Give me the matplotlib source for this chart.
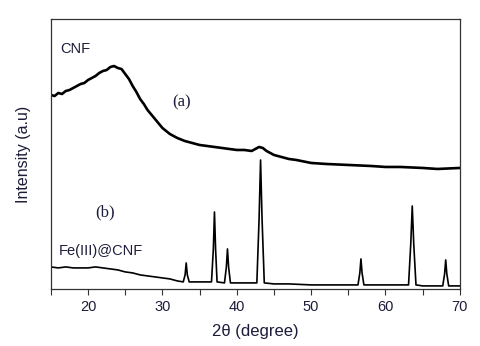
import numpy as np
import matplotlib
matplotlib.use("Agg")
import matplotlib.pyplot as plt
from matplotlib.ticker import MultipleLocator

# curve (a): CNF, amorphous hump (2theta, intensity a.u.)
cnf_x = [15, 15.5, 16, 16.5, 17, 17.5, 18, 18.5, 19, 19.5, 20, 20.5, 21, 21.5, 22, 22.5, 23, 23.5, 24, 24.5,
         25, 25.5, 26, 26.5, 27, 27.5, 28, 29, 30, 31, 32, 33, 34, 35, 36, 37, 38, 39, 40, 41,
         42, 42.5, 43, 43.5, 44, 44.5, 45, 46, 47, 48, 50, 52, 55, 58, 60, 62, 65, 67, 70]
cnf_y = [194, 193, 196, 195, 198, 199, 201, 203, 205, 206, 209, 211, 213, 216, 218, 219, 222, 223, 221, 220,
         215, 210, 203, 197, 190, 185, 179, 170, 161, 155, 151, 148, 146, 144, 143, 142, 141, 140, 139, 139,
         138, 140, 142, 141, 138, 136, 134, 132, 130, 129, 126, 125, 124, 123, 122, 122, 121, 120, 121]

# curve (b): Fe(III)@CNF, baseline plus sharp reflections
fe_x = [15, 16, 17, 18, 19, 20, 21, 22, 23, 24, 25, 26, 27, 28, 29, 30, 31, 32,
        32.8, 33.05, 33.2, 33.35, 33.6,
        34.5, 35.5, 36.6, 36.85, 37.0, 37.15, 37.35,
        38.35, 38.6, 38.75, 38.9, 39.15,
        40, 41, 42, 42.7, 43.0, 43.2, 43.4, 43.7,
        45, 47, 50, 53, 56.3, 56.55, 56.7, 56.85, 57.1,
        58, 60, 62, 63.1, 63.4, 63.6, 63.8, 64.1,
        65, 67, 67.7, 67.95, 68.1, 68.25, 68.5, 69, 70]
fe_y = [22, 21, 22, 21, 21, 21, 22, 21, 20, 19, 17, 16, 14, 13, 12, 11, 10, 8,
        7, 14, 26, 14, 7,
        7, 7, 7, 40, 77, 40, 7,
        6, 22, 40, 22, 6,
        6, 6, 6, 6, 70, 129, 70, 6,
        5, 5, 4, 4, 4, 16, 30, 16, 4,
        4, 4, 4, 4, 45, 83, 45, 4,
        3, 3, 3, 15, 29, 15, 3, 3, 3]

xtick_labels = ["20", "30", "40", "50", "60", "70"]
text_col = "#1c1c3a"

fig = plt.figure(figsize=(4.8, 3.46), dpi=100)
ax = fig.add_axes([0.106, 0.165, 0.852, 0.780])

ax.plot(cnf_x, cnf_y, color="black", lw=1.9)
ax.plot(fe_x, fe_y, color="black", lw=1.2)

ax.set_xlim(15, 70)
ax.set_ylim(0, 270)
ax.set_yticks([])
ax.xaxis.set_major_locator(MultipleLocator(5))
ax.xaxis.set_major_formatter(plt.FuncFormatter(
    lambda v, p: xtick_labels[int(v) // 10 - 2] if int(v) % 10 == 0 and int(v) >= 20 else ""))
ax.tick_params(axis="x", direction="out", length=4, width=0.8, labelsize=10.5,
               labelcolor=text_col, color="#333333", pad=4)
for s in ax.spines.values():
    s.set_color("#333333")
    s.set_linewidth(0.9)

lab_font = ["Liberation Sans", "DejaVu Sans"]
ax.set_xlabel("2θ (degree)", fontsize=12, color=text_col, family=lab_font, labelpad=7)
ax.set_ylabel("Intensity (a.u)", fontsize=11.5, color=text_col, family=lab_font, labelpad=14)
for t in ax.get_xticklabels():
    t.set_family(lab_font)

ax.text(16.2, 236, "CNF", fontsize=10.5, color=text_col, family=lab_font)
ax.text(31.3, 183, "(a)", fontsize=12, color=text_col, family="Liberation Serif")
ax.text(21.0, 73, "(b)", fontsize=12, color=text_col, family="Liberation Serif")
ax.text(16.0, 34, "Fe(III)@CNF", fontsize=10.5, color=text_col, family=lab_font)

fig.savefig("out.png", dpi=100)
